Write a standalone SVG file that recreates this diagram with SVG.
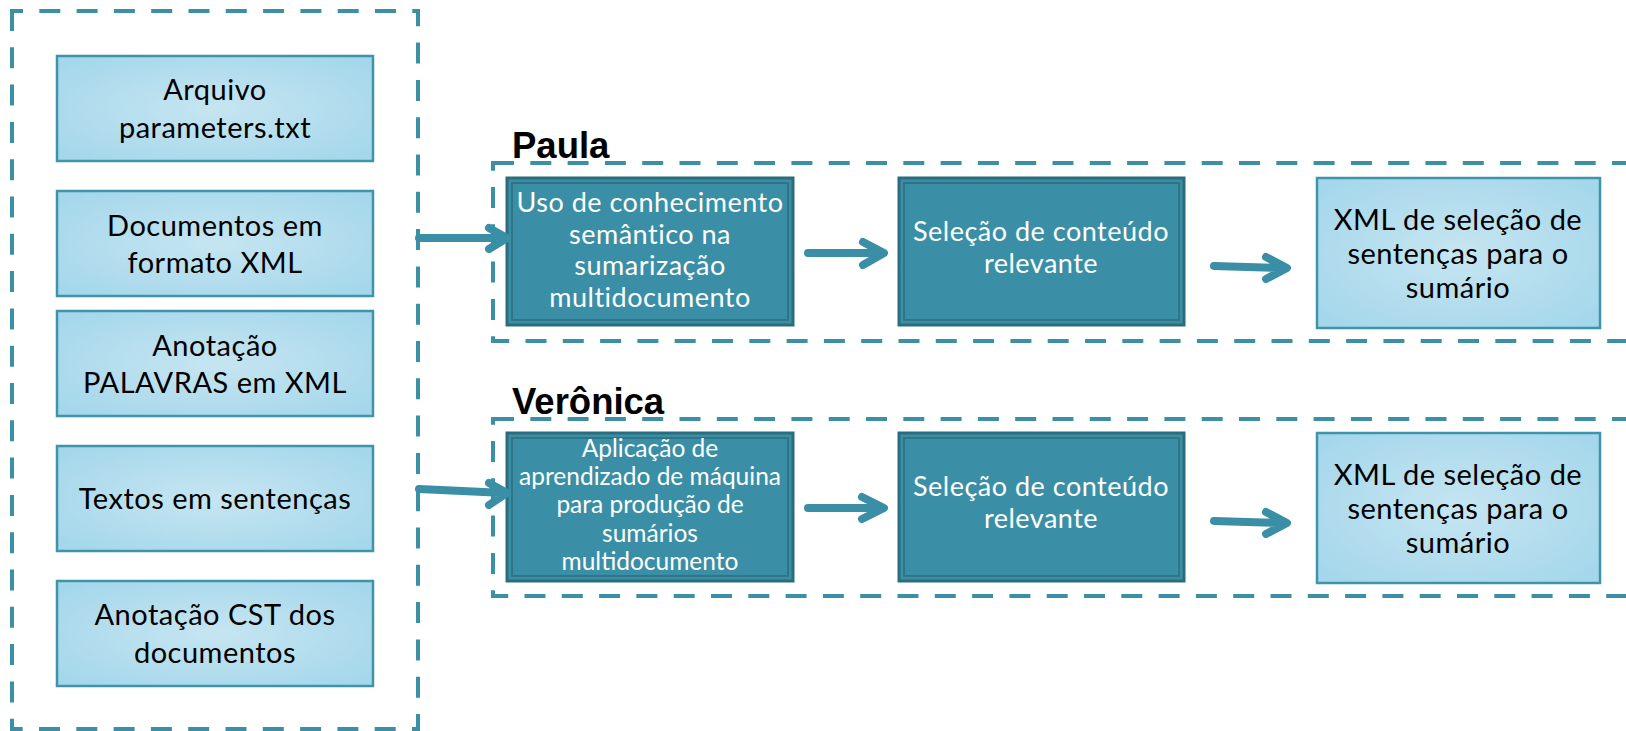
<svg xmlns="http://www.w3.org/2000/svg" width="1626" height="731" viewBox="0 0 1626 731">
<defs>
<radialGradient id="lg" cx="50%" cy="50%" r="65%">
<stop offset="0" stop-color="#c6e5f1"/>
<stop offset="1" stop-color="#a4d7eb"/>
</radialGradient>
<style>
.dash{fill:none;stroke:#3c90a6;stroke-width:4;stroke-dasharray:21 16.3}
.light{fill:url(#lg);stroke:#3f94aa;stroke-width:2.5}
.dark{fill:#3a8fa6;stroke:#2b6c7d;stroke-width:3}
.darkin{fill:none;stroke:#2f7586;stroke-width:2}
.lt{font-family:Lato,"Open Sans",sans-serif;font-size:29px;letter-spacing:0.5px;fill:#000;text-anchor:middle}
.dt{font-family:Lato,"Open Sans",sans-serif;font-size:27px;letter-spacing:0.5px;fill:#fff;text-anchor:middle}
.dt2{font-family:Lato,"Open Sans",sans-serif;font-size:24.5px;fill:#fff;text-anchor:middle}
.lbl{font-family:"Liberation Sans",Arial,sans-serif;font-size:36.5px;font-weight:bold;fill:#000}
.arr{fill:none;stroke:#3a8ea5;stroke-width:8;stroke-linecap:round;stroke-linejoin:round}
</style>
</defs>
<rect width="1626" height="731" fill="#fff"/>

<g id="containers">
<rect class="dash" x="12" y="11" width="406" height="718" stroke-dashoffset="10"/>
<rect class="dash" x="493" y="163" width="1150" height="178"/>
<rect class="dash" x="493" y="419" width="1150" height="177"/>
<text class="lbl" x="512" y="158">Paula</text>
<text class="lbl" x="512" y="414">Verônica</text>
</g>

<g id="in1">
<rect class="light" x="57" y="56" width="316" height="105"/>
<text class="lt" x="215" y="100">Arquivo</text>
<text class="lt" x="215" y="138">parameters.txt</text>
</g>
<g id="in2">
<rect class="light" x="57" y="191" width="316" height="105"/>
<text class="lt" x="215" y="236">Documentos em</text>
<text class="lt" x="215" y="273">formato XML</text>
</g>
<g id="in3">
<rect class="light" x="57" y="311" width="316" height="105"/>
<text class="lt" x="215" y="356">Anotação</text>
<text class="lt" x="215" y="393">PALAVRAS em XML</text>
</g>
<g id="in4">
<rect class="light" x="57" y="446" width="316" height="105"/>
<text class="lt" x="215" y="509">Textos em sentenças</text>
</g>
<g id="in5">
<rect class="light" x="57" y="581" width="316" height="105"/>
<text class="lt" x="215" y="625">Anotação CST dos</text>
<text class="lt" x="215" y="663">documentos</text>
</g>

<g id="paula1">
<rect class="dark" x="507" y="178" width="286" height="147"/>
<rect class="darkin" x="512" y="183" width="276" height="137"/>
<text class="dt" x="650" y="212">Uso de conhecimento</text>
<text class="dt" x="650" y="244">semântico na</text>
<text class="dt" x="650" y="275">sumarização</text>
<text class="dt" x="650" y="307">multidocumento</text>
</g>
<g id="paula2">
<rect class="dark" x="899" y="178" width="285" height="147"/>
<rect class="darkin" x="904" y="183" width="275" height="137"/>
<text class="dt" x="1041" y="241">Seleção de conteúdo</text>
<text class="dt" x="1041" y="273">relevante</text>
</g>
<g id="paula3">
<rect class="light" x="1317" y="178" width="283" height="150"/>
<text class="lt" x="1458" y="230">XML de seleção de</text>
<text class="lt" x="1458" y="264">sentenças para o</text>
<text class="lt" x="1458" y="298">sumário</text>
</g>

<g id="veronica1">
<rect class="dark" x="507" y="433" width="286" height="148"/>
<rect class="darkin" x="512" y="438" width="276" height="138"/>
<text class="dt2" x="650" y="457">Aplicação de</text>
<text class="dt2" x="650" y="485">aprendizado de máquina</text>
<text class="dt2" x="650" y="513">para produção de</text>
<text class="dt2" x="650" y="542">sumários</text>
<text class="dt2" x="650" y="570">multidocumento</text>
</g>
<g id="veronica2">
<rect class="dark" x="899" y="433" width="285" height="148"/>
<rect class="darkin" x="904" y="438" width="275" height="138"/>
<text class="dt" x="1041" y="496">Seleção de conteúdo</text>
<text class="dt" x="1041" y="528">relevante</text>
</g>
<g id="veronica3">
<rect class="light" x="1317" y="433" width="283" height="150"/>
<text class="lt" x="1458" y="485">XML de seleção de</text>
<text class="lt" x="1458" y="519">sentenças para o</text>
<text class="lt" x="1458" y="553">sumário</text>
</g>

<g id="connectors">
<path class="arr" d="M419,238 L505,238 M489,228 L507,238 L489,249"/>
<path class="arr" d="M808,253 L882,253 M863,242 L884,253 L863,265"/>
<path class="arr" d="M1214,266 L1285,268 M1266,257 L1287,268 L1266,279"/>
<path class="arr" d="M419,489 L505,493 M489,483 L507,493 L489,505"/>
<path class="arr" d="M808,508 L882,508 M862,497 L884,508 L862,519"/>
<path class="arr" d="M1214,521 L1285,523 M1266,512 L1287,523 L1266,534"/>
</g>
</svg>
